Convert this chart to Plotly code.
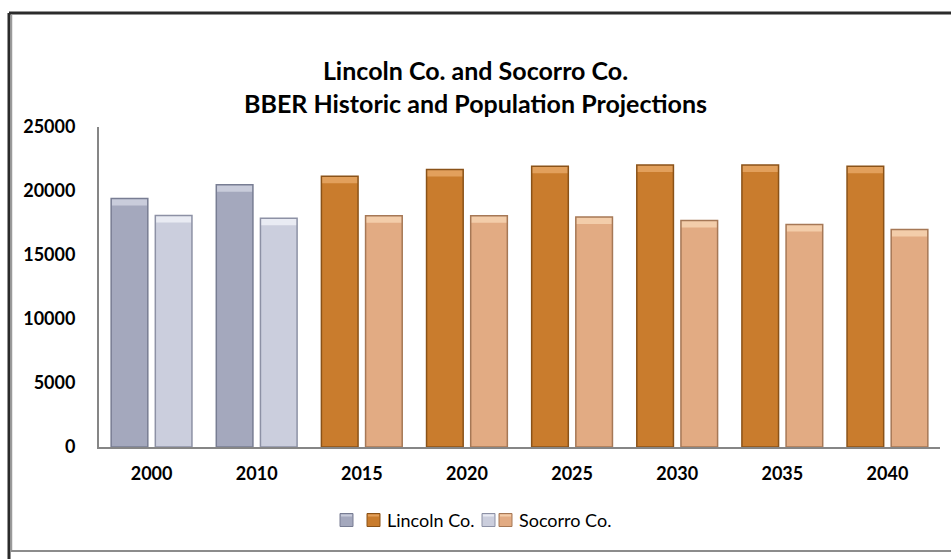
import plotly.graph_objects as go

# Population by year: census (2000, 2010) and BBER projections (2015-2040)
years = ["2000", "2010", "2015", "2020", "2025", "2030", "2035", "2040"]
lincoln = [19411, 20497, 21150, 21680, 21940, 22040, 22040, 21940]
socorro = [18078, 17866, 18060, 18060, 17960, 17700, 17380, 16990]
historic_years = 2  # first two categories are census counts

y_ticks = [0, 5000, 10000, 15000, 20000, 25000]

FONT = "Lato"
W, H = 951, 559
L, R, T, B = 99, 11, 127, 112
Y_MAX = 25000

pw, ph = W - L - R, H - T - B
def px_x(p):
    return (p - L) / pw
def px_y(p):
    return (H - B - p) / ph

series = [
    # (legend text, values, slice, fill, edge, bevel, offset group)
    ("", lincoln[:historic_years], slice(0, historic_years), "#a4a8bd", "#787d93", "#c9ccdb", "L"),
    ("Lincoln Co.", lincoln[historic_years:], slice(historic_years, None), "#c97c2d", "#8a5218", "#e2a05c", "L"),
    ("", socorro[:historic_years], slice(0, historic_years), "#cbcedd", "#8d91a5", "#e9ebf3", "S"),
    ("Socorro Co.", socorro[historic_years:], slice(historic_years, None), "#e2ab83", "#a67856", "#f3cdaa", "S"),
]

bevel = 7 / ph * Y_MAX  # height of the lighter bevel band at the top of each bar

fig = go.Figure()
for name, vals, sl, fill, edge, hi, grp in series:
    x = years[sl]
    # body
    fig.add_trace(go.Bar(
        x=x, y=vals, name=name or " ", offsetgroup=grp,
        marker=dict(color=fill, line=dict(width=0)),
    ))
    # light bevel along the top
    fig.add_trace(go.Bar(
        x=x, y=[bevel] * len(vals), base=[v - bevel for v in vals],
        offsetgroup=grp, hoverinfo="skip",
        marker=dict(color=hi, line=dict(width=0)),
    ))
    # outline over the whole bar
    fig.add_trace(go.Bar(
        x=x, y=vals, offsetgroup=grp, hoverinfo="skip",
        marker=dict(color="rgba(0,0,0,0)", line=dict(color=edge, width=1.5)),
    ))

# frame around the chart area
frame = [
    dict(x0=9, x1=960, y0=13, y1=13, color="#2b2b2b", width=3),
    dict(x0=9, x1=9, y0=13, y1=560, color="#2b2b2b", width=3),
    dict(x0=11.5, x1=11.5, y0=15, y1=551, color="#9a9a9a", width=1.5),
    dict(x0=11, x1=960, y0=551, y1=551, color="#8c8c8c", width=2),
]
shapes = [
    dict(type="line", xref="paper", yref="paper", x0=px_x(f["x0"]), x1=px_x(f["x1"]),
         y0=px_y(f["y0"]), y1=px_y(f["y1"]), line=dict(color=f["color"], width=f["width"]))
    for f in frame
]

# legend row: key squares followed by their labels
legend_y = 520
key = 13
annotations = []
legend_keys = [340, 367, 482, 499]
legend_text_x = {1: 385, 3: 517}
for i, (name, vals, sl, fill, edge, hi, grp) in enumerate(series):
    x0 = legend_keys[i]
    shapes.append(dict(
        type="rect", xref="paper", yref="paper",
        x0=px_x(x0), x1=px_x(x0 + key), y0=px_y(legend_y + key / 2), y1=px_y(legend_y - key / 2),
        fillcolor=fill, line=dict(color=edge, width=1),
    ))
    shapes.append(dict(
        type="rect", xref="paper", yref="paper",
        x0=px_x(x0 + 1), x1=px_x(x0 + key - 1), y0=px_y(legend_y - key / 2 + 3), y1=px_y(legend_y - key / 2 + 1),
        fillcolor=hi, line=dict(width=0),
    ))
    if name:
        annotations.append(dict(
            text=name, xref="paper", yref="paper", x=px_x(legend_text_x[i]), y=px_y(legend_y),
            xanchor="left", yanchor="middle", showarrow=False,
            font=dict(family=FONT, size=18, color="black"),
        ))

fig.update_layout(
    width=W, height=H,
    margin=dict(l=L, r=R, t=T, b=B),
    paper_bgcolor="white", plot_bgcolor="white",
    barmode="group", bargap=0.16, bargroupgap=0.17,
    showlegend=False,
    title=dict(
        text="Lincoln Co. and Socorro Co.<br>BBER Historic and Population Projections",
        x=0.5, xanchor="center", y=1 - 80 / H, yanchor="middle",
        font=dict(family=FONT, size=25, color="black", weight="bold"),
    ),
    xaxis=dict(
        type="category", showline=True, linecolor="#868686", linewidth=2,
        ticks="", ticklabelstandoff=9,
        tickfont=dict(family=FONT, size=18, color="black", weight="bold"),
        showgrid=False, zeroline=False,
    ),
    yaxis=dict(
        range=[0, Y_MAX], tickvals=y_ticks, tickformat="d", showline=True,
        linecolor="#868686", linewidth=2, ticks="", ticklabelstandoff=18,
        tickfont=dict(family=FONT, size=18, color="black", weight="bold"),
        showgrid=False, zeroline=False,
    ),
    shapes=shapes,
    annotations=annotations,
)

fig.write_html("out.html")
